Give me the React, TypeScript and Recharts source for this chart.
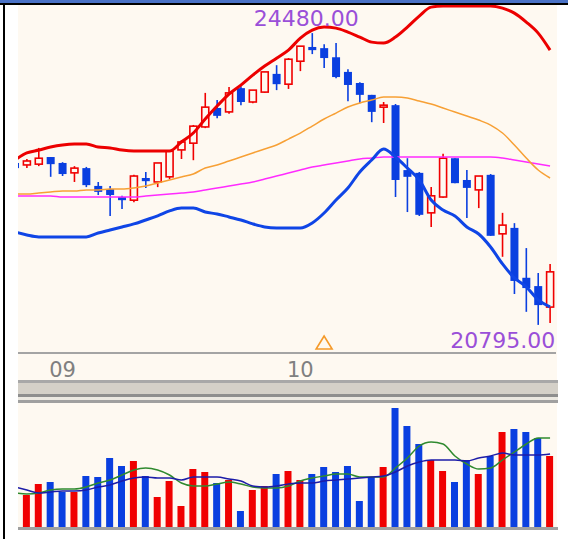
import React from 'react';
import { ComposedChart, Bar, Line, XAxis, YAxis, ReferenceDot, Cell } from 'recharts';

// daily OHLC (first session is cut by the left edge)
const opens = [22840, 22815, 22825, 22915, 22840, 22715, 22775, 22550, 22510, 22410, 22370, 22650, 22600, 22665, 23005, 23090, 23295, 23535, 23485, 23785, 23610, 23735, 23965, 23835, 24125, 24305, 24290, 24175, 23990, 23850, 23700, 23545, 23570, 22750, 22715, 22210, 22410, 22900, 22625, 22500, 22690, 21945, 22020, 21390, 21285, 21020];
const highs = [22850, 22890, 23030, 22915, 22850, 22800, 22790, 22600, 22550, 22425, 22690, 22725, 22840, 22990, 23130, 23320, 23725, 23635, 23800, 23810, 23760, 23990, 24075, 24165, 24315, 24480, 24340, 24355, 24025, 23860, 23700, 23610, 23585, 22900, 22725, 22535, 22955, 22900, 22750, 22675, 22700, 22210, 22080, 21765, 21450, 21565];
const lows = [22750, 22775, 22800, 22665, 22675, 22600, 22535, 22435, 22170, 22260, 22345, 22525, 22535, 22635, 22890, 22875, 23280, 23405, 23460, 23570, 23595, 23725, 23760, 23775, 24000, 24215, 24040, 23910, 23620, 23595, 23355, 23345, 22410, 22220, 22170, 22030, 22400, 22585, 22145, 22270, 21920, 21655, 21185, 20960, 20795, 20820];
const closes = [22775, 22865, 22900, 22825, 22700, 22775, 22560, 22475, 22435, 22370, 22675, 22610, 22840, 22990, 23105, 23305, 23545, 23435, 23725, 23610, 23760, 23990, 23835, 24150, 24315, 24265, 24165, 23925, 23825, 23700, 23485, 23570, 22625, 22665, 22185, 22425, 22900, 22585, 22525, 22675, 21920, 22055, 21350, 21260, 21045, 21465];

// bollinger bands and moving averages
const bbUpper = [22877, 22966, 23003, 23041, 23067, 23079, 23079, 23041, 23029, 23003, 22991, 22991, 22991, 22991, 23104, 23218, 23395, 23559, 23710, 23824, 23950, 24064, 24164, 24265, 24417, 24518, 24556, 24543, 24493, 24430, 24366, 24354, 24430, 24556, 24695, 24808, 24821, 24821, 24821, 24821, 24821, 24795, 24732, 24619, 24480, 24265];
const bbLower = [21969, 21931, 21906, 21906, 21906, 21906, 21906, 21956, 21994, 22032, 22070, 22120, 22171, 22234, 22271, 22271, 22221, 22196, 22158, 22120, 22070, 22032, 22019, 22019, 22019, 22082, 22208, 22372, 22524, 22726, 22877, 23016, 22915, 22776, 22625, 22372, 22246, 22171, 22032, 21943, 21779, 21565, 21388, 21275, 21110, 21022];
const maMid = [22448, 22448, 22461, 22473, 22486, 22486, 22499, 22499, 22511, 22511, 22524, 22549, 22587, 22625, 22663, 22701, 22776, 22814, 22865, 22915, 22966, 23016, 23067, 23142, 23218, 23306, 23395, 23470, 23546, 23597, 23634, 23672, 23672, 23660, 23622, 23584, 23534, 23483, 23433, 23382, 23319, 23218, 23067, 22902, 22751, 22650];
const maLong = [22423, 22423, 22423, 22423, 22410, 22410, 22410, 22410, 22410, 22410, 22410, 22423, 22436, 22448, 22461, 22473, 22499, 22524, 22549, 22574, 22600, 22637, 22675, 22713, 22751, 22789, 22814, 22839, 22865, 22890, 22902, 22915, 22915, 22915, 22915, 22915, 22915, 22915, 22915, 22915, 22915, 22902, 22877, 22852, 22827, 22802];

// volume and its averages
const volumes = [34, 32, 43, 45, 35, 35, 51, 50, 69, 61, 66, 51, 30, 46, 21, 58, 55, 44, 47, 16, 37, 41, 53, 56, 47, 53, 60, 55, 61, 26, 50, 60, 119, 101, 83, 67, 56, 45, 67, 53, 71, 95, 98, 95, 89, 71];
const volShort = [34, 33, 34, 37, 38, 38, 40, 44, 47, 52, 57, 59, 57, 52, 44, 41, 41, 43, 45, 43, 40, 39, 39, 41, 46, 49, 51, 53, 53, 50, 50, 50, 59, 69, 81, 85, 83, 71, 63, 58, 59, 67, 75, 83, 89, 89];
const volLong = [40, 37, 34, 35, 36, 36, 37, 40, 42, 46, 49, 50, 49, 49, 47, 50, 50, 50, 48, 46, 41, 40, 41, 43, 44, 44, 46, 47, 48, 49, 50, 51, 55, 61, 65, 67, 67, 67, 66, 69, 71, 74, 72, 72, 72, 73];

const monthTickIdx = [4, 24];
const monthTickText = ['09', '10'];
const signalIdx = 26;

const priceDomain = [20440, 24835];
const volDomain = [0, 124];

const BG = '#fef9f1';
const RED = '#f00000';
const BLUE = '#0a3fe0';
const FONT = 'DejaVu Sans';

const data = opens.map((open, i) => ({
  i,
  open,
  high: highs[i],
  low: lows[i],
  close: closes[i],
  upper: bbUpper[i],
  lower: bbLower[i],
  ma: maMid[i],
  maLong: maLong[i],
  vol: volumes[i],
  vShort: volShort[i],
  vLong: volLong[i],
}));

const hiIdx = highs.indexOf(Math.max(...highs));
const loIdx = lows.indexOf(Math.min(...lows));

function Candle(props: any) {
  const { x, y, width, height, payload } = props;
  if (!payload) return null;
  const top = Math.min(y, y + height);
  const h = Math.abs(height);
  const k = h / (payload.high - payload.low || 1);
  const yOpen = top + (payload.high - payload.open) * k;
  const yClose = top + (payload.high - payload.close) * k;
  const bTop = Math.min(yOpen, yClose);
  const bBot = Math.max(yOpen, yClose);
  const cx = x + width / 2;
  if (payload.close >= payload.open) {
    return (
      <g>
        <line x1={cx} x2={cx} y1={top} y2={bTop} stroke={RED} strokeWidth={1.6} />
        <line x1={cx} x2={cx} y1={bBot} y2={top + h} stroke={RED} strokeWidth={1.6} />
        <rect x={cx - 3.5} y={bTop} width={7} height={Math.max(bBot - bTop, 1)} fill={BG} stroke={RED} strokeWidth={1.6} />
      </g>
    );
  }
  return (
    <g>
      <line x1={cx} x2={cx} y1={top} y2={top + h} stroke={BLUE} strokeWidth={1.6} />
      <rect x={cx - 4} y={bTop} width={8} height={Math.max(bBot - bTop, 2)} fill={BLUE} />
    </g>
  );
}

const MonthTick = (props: any) => {
  const { x, y, payload } = props;
  const n = monthTickIdx.indexOf(payload.value);
  return (
    <text x={x} y={y + 24} textAnchor="middle" fill="#808080" fontSize={21} fontFamily={FONT}>
      {n >= 0 ? monthTickText[n] : ''}
    </text>
  );
};

export default function App() {
  return (
    <div style={{ position: 'absolute', left: 0, top: 0, width: 568, height: 539, background: '#fff', overflow: 'hidden' }}>
      <div style={{ position: 'absolute', left: 0, top: 0, width: 568, height: 3, background: '#4a72c6' }} />
      <div style={{ position: 'absolute', left: 0, top: 3, width: 568, height: 2, background: '#000' }} />
      <div style={{ position: 'absolute', left: 3, top: 3, width: 2, height: 536, background: '#000' }} />

      {/* price panel; the separator below is painted over its lower few pixels */}
      <div style={{ position: 'absolute', left: 18, top: 5, width: 539, height: 384, background: BG, overflow: 'hidden' }}>
        <div style={{ position: 'absolute', left: -9, top: 0 }}>
          <ComposedChart width={547} height={384} data={data} margin={{ top: 0, right: 0, bottom: 0, left: 0 }}>
            <XAxis
              dataKey="i"
              ticks={monthTickIdx}
              interval={0}
              tickLine={false}
              tickSize={0}
              tickMargin={0}
              height={36}
              axisLine={{ stroke: '#a4a4a4', strokeWidth: 2 }}
              tick={<MonthTick />}
            />
            <YAxis hide domain={priceDomain} />
            <Bar
              dataKey={(d: any) => [d.low, d.high]}
              barSize={8}
              shape={<Candle />}
              isAnimationActive={false}
            />
            <Line type="monotone" dataKey="maLong" stroke="#ff2bff" strokeWidth={1.5} dot={false} isAnimationActive={false} />
            <Line type="monotone" dataKey="ma" stroke="#f7a035" strokeWidth={1.5} dot={false} isAnimationActive={false} />
            <Line type="monotone" dataKey="upper" stroke="#ec0000" strokeWidth={3} dot={false} isAnimationActive={false} />
            <Line type="monotone" dataKey="lower" stroke="#0f45e6" strokeWidth={3} dot={false} isAnimationActive={false} />
            <ReferenceDot
              x={hiIdx}
              y={highs[hiIdx]}
              r={0}
              ifOverflow="visible"
              shape={(p: any) => (
                <text x={p.cx - 6} y={p.cy - 7} textAnchor="middle" fill="#9a4fd8" fontSize={22} fontFamily={FONT}>
                  {highs[hiIdx].toFixed(2)}
                </text>
              )}
            />
            <ReferenceDot
              x={loIdx}
              y={lows[loIdx]}
              r={0}
              ifOverflow="visible"
              shape={(p: any) => (
                <text x={p.cx + 17} y={p.cy + 23} textAnchor="end" fill="#9a4fd8" fontSize={22} fontFamily={FONT}>
                  {lows[loIdx].toFixed(2)}
                </text>
              )}
            />
            <ReferenceDot
              x={signalIdx}
              y={priceDomain[0]}
              r={0}
              ifOverflow="visible"
              shape={(p: any) => (
                <polygon
                  points={`${p.cx},${p.cy - 17} ${p.cx - 8},${p.cy - 4} ${p.cx + 8},${p.cy - 4}`}
                  fill="none"
                  stroke="#f59a2a"
                  strokeWidth={1.6}
                />
              )}
            />
          </ComposedChart>
        </div>
      </div>

      {/* separator between panels */}
      <div style={{ position: 'absolute', left: 18, top: 380, width: 540, height: 3, background: '#a8a8a8' }} />
      <div style={{ position: 'absolute', left: 18, top: 383, width: 540, height: 11, background: '#d4d0c8' }} />
      <div style={{ position: 'absolute', left: 18, top: 394, width: 540, height: 3, background: '#8e8e8e' }} />
      <div style={{ position: 'absolute', left: 18, top: 397, width: 540, height: 3, background: '#ebe8e1' }} />
      <div style={{ position: 'absolute', left: 18, top: 400, width: 540, height: 3, background: '#a0a0a0' }} />

      {/* volume panel */}
      <div style={{ position: 'absolute', left: 18, top: 403, width: 539, height: 124, background: BG, overflow: 'hidden' }}>
        <div style={{ position: 'absolute', left: -9, top: 0 }}>
          <ComposedChart width={547} height={124} data={data} margin={{ top: 0, right: 0, bottom: 0, left: 0 }}>
            <XAxis dataKey="i" hide />
            <YAxis hide domain={volDomain} />
            <Bar dataKey="vol" barSize={7} isAnimationActive={false}>
              {data.map((d) => (
                <Cell key={d.i} fill={d.close >= d.open ? RED : BLUE} />
              ))}
            </Bar>
            <Line type="monotone" dataKey="vShort" stroke="#2f8a2f" strokeWidth={1.5} dot={false} isAnimationActive={false} />
            <Line type="monotone" dataKey="vLong" stroke="#1c1ca8" strokeWidth={1.5} dot={false} isAnimationActive={false} />
          </ComposedChart>
        </div>
      </div>
      <div style={{ position: 'absolute', left: 18, top: 527, width: 540, height: 3, background: '#a0a0a0' }} />
    </div>
  );
}
